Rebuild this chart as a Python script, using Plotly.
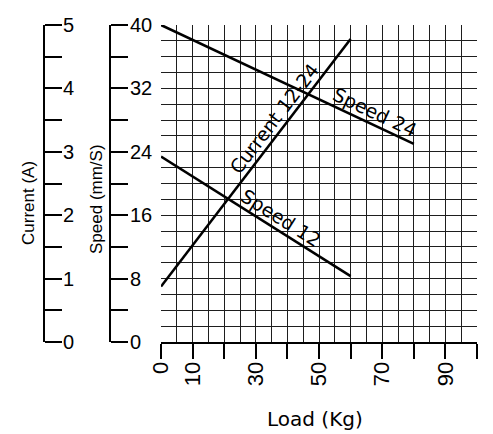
import math
import plotly.graph_objects as go

# ---------------- data ----------------
load_current = [0, 60]
current_a = [0.875, 4.78]

load_speed24 = [0, 80]
speed_24 = [40, 25]

load_speed12 = [0, 60]
speed_12 = [23.4, 8.3]

x_tick_vals = [0, 10, 20, 30, 40, 50, 60, 70, 80, 90, 100]
x_tick_text = ["0", "10", "", "30", "", "50", "", "70", "", "90", ""]

speed_tick_vals = [0, 8, 16, 24, 32, 40]
speed_minor_vals = [4, 12, 20, 28, 36]
current_tick_vals = [0, 1, 2, 3, 4, 5]
current_minor_vals = [0.5, 1.5, 2.5, 3.5, 4.5]
grid_y_vals = list(range(0, 41, 2))

# ---------------- layout geometry ----------------
W, H = 493, 434
OFF = 8  # page body margin; target pixel positions are shifted by this


def px(v):
    return v - OFF


PL, PR, PT, PB = px(161), px(477), px(25), px(342)
xdom = [PL / W, PR / W]
ydom = [1 - PB / H, 1 - PT / H]
XR = [0, 100]
YR = [0, 40]
CR = [0, 5]
sx = (PR - PL) / (XR[1] - XR[0])
sy = (PB - PT) / (YR[1] - YR[0])
sc = (PB - PT) / (CR[1] - CR[0])

LINE_W = 2.6
BLACK = "#000000"
GRID = "#1e1e1e"

fig = go.Figure()
fig.add_trace(go.Scatter(x=load_speed24, y=speed_24, mode="lines",
                         line=dict(color=BLACK, width=LINE_W), yaxis="y",
                         hoverinfo="skip", showlegend=False))
fig.add_trace(go.Scatter(x=load_speed12, y=speed_12, mode="lines",
                         line=dict(color=BLACK, width=LINE_W), yaxis="y",
                         hoverinfo="skip", showlegend=False))
fig.add_trace(go.Scatter(x=load_current, y=current_a, mode="lines",
                         line=dict(color=BLACK, width=LINE_W), yaxis="y2",
                         hoverinfo="skip", showlegend=False))
# invisible companion so the speed scale axis (y3) is drawn
fig.add_trace(go.Scatter(x=load_speed12, y=speed_12, mode="lines",
                         line=dict(color="rgba(0,0,0,0)", width=0), opacity=0,
                         yaxis="y3", hoverinfo="skip", showlegend=False))


def line_label(xs, ys, scale_y, at_x, text, yref, dist=12):
    dx = (xs[1] - xs[0]) * sx
    dy = (ys[1] - ys[0]) * scale_y
    ang = -math.degrees(math.atan2(dy, dx))
    t = (at_x - xs[0]) / (xs[1] - xs[0])
    yy = ys[0] + t * (ys[1] - ys[0])
    a = math.radians(ang)
    return dict(x=at_x, y=yy, xref="x", yref=yref, text=text, showarrow=False,
                xanchor="center", yanchor="middle",
                textangle=ang, xshift=dist * math.sin(a), yshift=dist * math.cos(a),
                font=dict(family="DejaVu Sans", size=19, color=BLACK))


annotations = [
    line_label(load_speed24, speed_24, sy, 66, "Speed\u00a024", "y"),
    line_label(load_speed12, speed_12, sy, 36, "Speed\u00a012", "y"),
    line_label(load_current, current_a, sc, 39, "Current\u00a012-24", "y2"),
    dict(x=px(28) / W, y=1 - px(203) / H, xref="paper", yref="paper",
         text="Current (A)", textangle=-90, showarrow=False,
         xanchor="center", yanchor="middle",
         font=dict(family="Liberation Sans, Arial", size=17, color=BLACK)),
    dict(x=px(97) / W, y=1 - px(199) / H, xref="paper", yref="paper",
         text="Speed (mm/S)", textangle=-90, showarrow=False,
         xanchor="center", yanchor="middle",
         font=dict(family="Liberation Sans, Arial", size=17, color=BLACK)),
    dict(x=px(315) / W, y=1 - px(419) / H, xref="paper", yref="paper",
         text="Load (Kg)", showarrow=False, xanchor="center", yanchor="middle",
         font=dict(family="DejaVu Sans", size=20, color=BLACK)),
]

side_axis_common = dict(
    overlaying="y", anchor="free", side="right", ticks="outside", ticklen=17,
    tickwidth=2, tickcolor=BLACK, showline=True, linewidth=2, linecolor=BLACK,
    showgrid=False, zeroline=False, fixedrange=True, automargin=False,
    tickfont=dict(family="Liberation Sans, Arial", size=20, color=BLACK),
)

fig.update_layout(
    template="none",
    width=W, height=H, margin=dict(l=0, r=0, t=0, b=0, pad=0, autoexpand=False),
    paper_bgcolor="white", plot_bgcolor="white", showlegend=False,
    annotations=annotations,
    xaxis=dict(domain=xdom, range=XR, tickvals=x_tick_vals, ticktext=x_tick_text,
               anchor="y",
               tickangle=-90, ticks="outside", ticklen=15, tickwidth=2,
               tickcolor=BLACK, showline=True, linewidth=2, linecolor=BLACK,
               showgrid=True, gridcolor=GRID, gridwidth=1, zeroline=False,
               ticklabelstandoff=-6,
               minor=dict(dtick=5, tick0=0, showgrid=True, gridcolor=GRID,
                          gridwidth=1, ticks=""),
               tickfont=dict(family="Liberation Sans, Arial", size=22, color=BLACK),
               automargin=False, fixedrange=True),
    yaxis=dict(domain=ydom, range=YR, tickvals=grid_y_vals, showticklabels=False,
               anchor="x",
               ticks="", showgrid=True, gridcolor=GRID, gridwidth=1,
               zeroline=False, showline=False, automargin=False, fixedrange=True),
    yaxis2=dict(range=CR, position=px(44) / W, tickvals=current_tick_vals,
                ticklabelstandoff=-3,
                minor=dict(tickvals=current_minor_vals, ticks="outside", ticklen=17,
                           tickwidth=2, tickcolor=BLACK),
                **side_axis_common),
    yaxis3=dict(range=YR, position=px(110) / W, tickvals=speed_tick_vals,
                ticklabelstandoff=-2,
                minor=dict(tickvals=speed_minor_vals, ticks="outside", ticklen=17,
                           tickwidth=2, tickcolor=BLACK),
                **side_axis_common),
)

fig.write_html("out.html")
